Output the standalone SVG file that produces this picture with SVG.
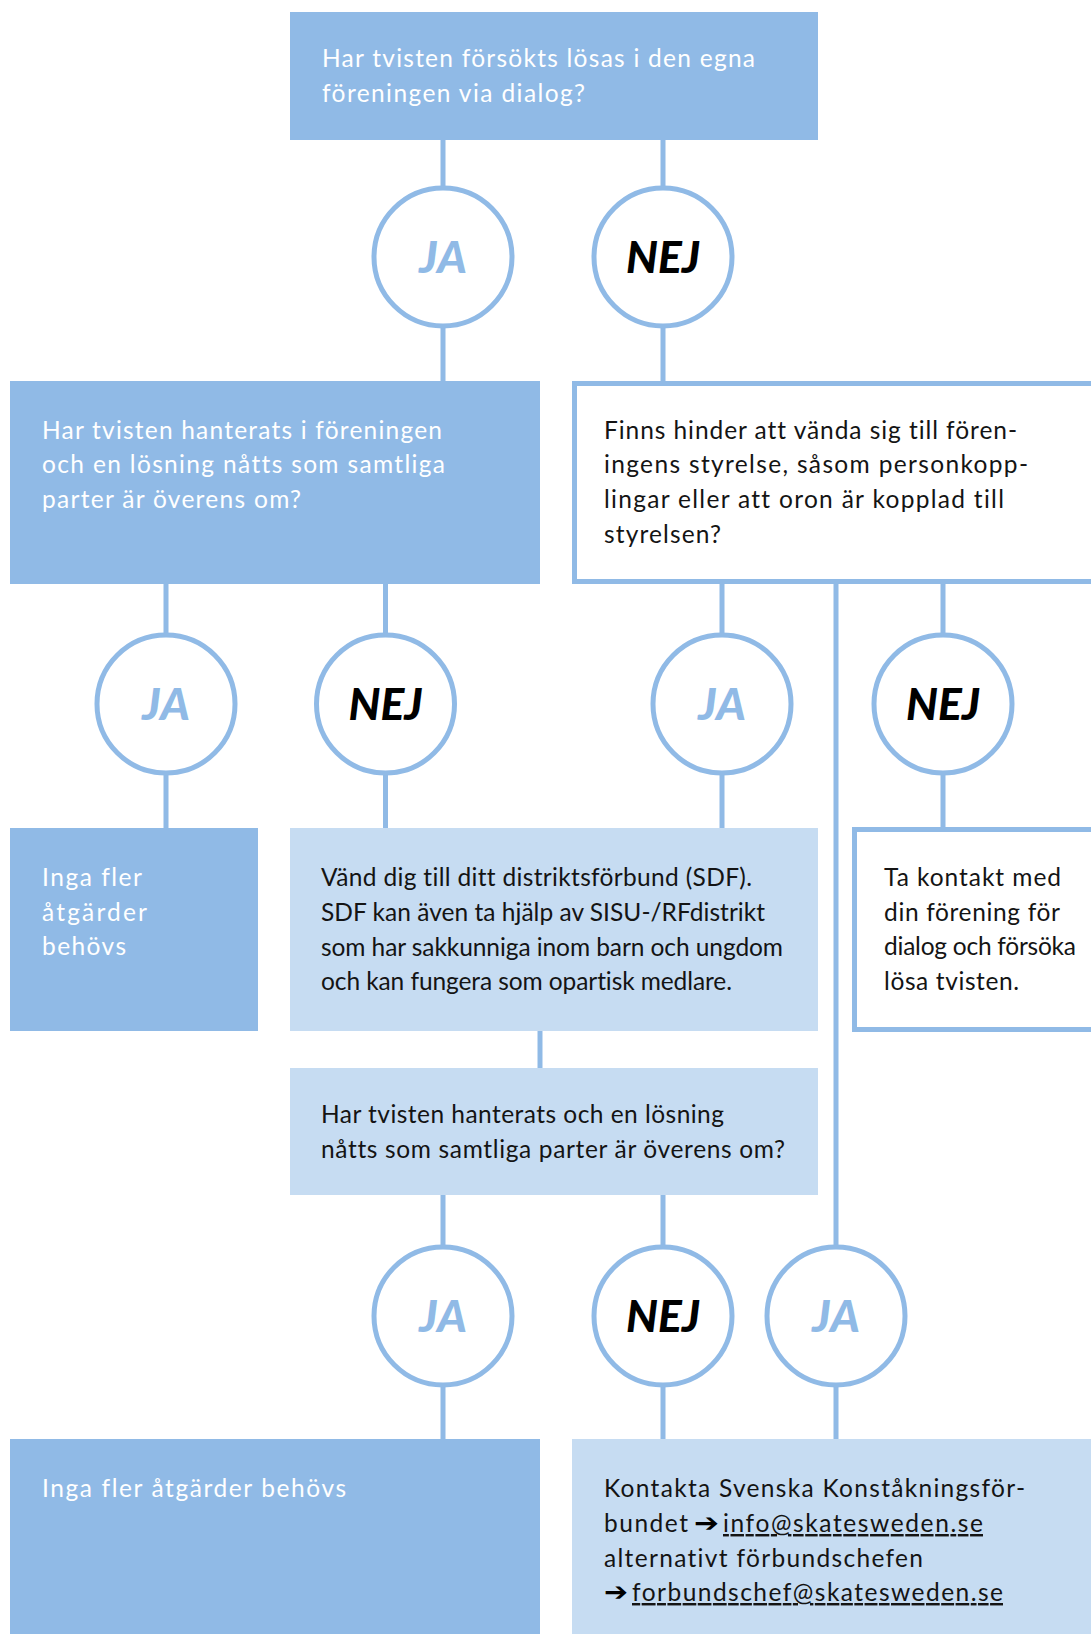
<svg xmlns="http://www.w3.org/2000/svg" width="1091" height="1634" viewBox="0 0 1091 1634">
<style>
.dk{fill:#90bae6}
.lt{fill:#c6dcf2}
.wb{fill:#fff;stroke:#90bae6;stroke-width:5}
.c{fill:#fff;stroke:#90bae6;stroke-width:5}
.ln{stroke:#90bae6;stroke-width:5;fill:none}
.t{font-family:Lato,"Noto Sans","DejaVu Sans",sans-serif;font-size:24.5px;font-variant-ligatures:none}
.w{fill:#ffffff}
.k{fill:#141414}
.ja{font-family:Lato,"Liberation Sans",sans-serif;font-weight:900;font-style:italic;font-size:43px;fill:#90bae6;text-anchor:middle}
.nej{font-family:Lato,"Liberation Sans",sans-serif;font-weight:900;font-style:italic;font-size:43px;fill:#000;text-anchor:middle}
.ar{font-family:"DejaVu Sans",sans-serif;font-weight:bold;font-size:26px;fill:#000}
.u{text-decoration:underline}
</style>
<rect width="1091" height="1634" fill="#fff"/>
<g id="connectors">
<line class="ln" x1="443" y1="140" x2="443" y2="381"/>
<line class="ln" x1="663" y1="140" x2="663" y2="381"/>
<line class="ln" x1="166" y1="584" x2="166" y2="828"/>
<line class="ln" x1="385.5" y1="584" x2="385.5" y2="828"/>
<line class="ln" x1="722" y1="584" x2="722" y2="828"/>
<line class="ln" x1="943" y1="584" x2="943" y2="828"/>
<line class="ln" x1="836" y1="584" x2="836" y2="1439"/>
<line class="ln" x1="540" y1="1031" x2="540" y2="1068"/>
<line class="ln" x1="443" y1="1195" x2="443" y2="1439"/>
<line class="ln" x1="663" y1="1195" x2="663" y2="1439"/>
</g>
<g id="q1">
<rect class="dk" x="290" y="12" width="528" height="128"/>
<text class="t w" x="322" y="67" textLength="433" lengthAdjust="spacing">Har tvisten försökts lösas i den egna</text>
<text class="t w" x="322" y="102" textLength="263" lengthAdjust="spacing">föreningen via dialog?</text>
</g>
<g id="c1-ja"><circle class="c" cx="443" cy="257" r="69"/><text class="ja" x="443" y="272.5" textLength="48" lengthAdjust="spacingAndGlyphs">JA</text></g>
<g id="c1-nej"><circle class="c" cx="663" cy="257" r="69"/><text class="nej" x="663" y="272.5" textLength="74" lengthAdjust="spacingAndGlyphs">NEJ</text></g>
<g id="q2">
<rect class="dk" x="10" y="381" width="530" height="203"/>
<text class="t w" x="42" y="439" textLength="400" lengthAdjust="spacing">Har tvisten hanterats i föreningen</text>
<text class="t w" x="42" y="473" textLength="403" lengthAdjust="spacing">och en lösning nåtts som samtliga</text>
<text class="t w" x="42" y="508" textLength="259" lengthAdjust="spacing">parter är överens om?</text>
</g>
<g id="q3">
<rect class="wb" x="574.5" y="383.5" width="530" height="198"/>
<text class="t k" x="604" y="439" textLength="413" lengthAdjust="spacing">Finns hinder att vända sig till fören-</text>
<text class="t k" x="604" y="473" textLength="424" lengthAdjust="spacing">ingens styrelse, såsom personkopp-</text>
<text class="t k" x="604" y="508" textLength="400" lengthAdjust="spacing">lingar eller att oron är kopplad till</text>
<text class="t k" x="604" y="543" textLength="117" lengthAdjust="spacing">styrelsen?</text>
</g>
<g id="c2-ja"><circle class="c" cx="166" cy="704" r="69"/><text class="ja" x="166" y="719.5" textLength="48" lengthAdjust="spacingAndGlyphs">JA</text></g>
<g id="c2-nej"><circle class="c" cx="385.5" cy="704" r="69"/><text class="nej" x="385.5" y="719.5" textLength="74" lengthAdjust="spacingAndGlyphs">NEJ</text></g>
<g id="c3-ja"><circle class="c" cx="722" cy="704" r="69"/><text class="ja" x="722" y="719.5" textLength="48" lengthAdjust="spacingAndGlyphs">JA</text></g>
<g id="c3-nej"><circle class="c" cx="943" cy="704" r="69"/><text class="nej" x="943" y="719.5" textLength="74" lengthAdjust="spacingAndGlyphs">NEJ</text></g>
<g id="end1">
<rect class="dk" x="10" y="828" width="248" height="203"/>
<text class="t w" x="42" y="886" textLength="100" lengthAdjust="spacing">Inga fler</text>
<text class="t w" x="42" y="921" textLength="105" lengthAdjust="spacing">åtgärder</text>
<text class="t w" x="42" y="955" textLength="84" lengthAdjust="spacing">behövs</text>
</g>
<g id="sdf">
<rect class="lt" x="290" y="828" width="528" height="203"/>
<text class="t k" x="321" y="886" textLength="431" lengthAdjust="spacing">Vänd dig till ditt distriktsförbund (SDF).</text>
<text class="t k" x="321" y="921" textLength="444" lengthAdjust="spacing">SDF kan även ta hjälp av SISU-/RFdistrikt</text>
<text class="t k" x="321" y="956" textLength="462" lengthAdjust="spacing">som har sakkunniga inom barn och ungdom</text>
<text class="t k" x="321" y="990" textLength="411" lengthAdjust="spacing">och kan fungera som opartisk medlare.</text>
</g>
<g id="contact-club">
<rect class="wb" x="854.5" y="829.5" width="300" height="200"/>
<text class="t k" x="884" y="886" textLength="177" lengthAdjust="spacing">Ta kontakt med</text>
<text class="t k" x="884" y="921" textLength="176" lengthAdjust="spacing">din förening för</text>
<text class="t k" x="884" y="955" textLength="192" lengthAdjust="spacing">dialog och försöka</text>
<text class="t k" x="884" y="990" textLength="135" lengthAdjust="spacing">lösa tvisten.</text>
</g>
<g id="q4">
<rect class="lt" x="290" y="1068" width="528" height="127"/>
<text class="t k" x="321" y="1123" textLength="403" lengthAdjust="spacing">Har tvisten hanterats och en lösning</text>
<text class="t k" x="321" y="1158" textLength="464" lengthAdjust="spacing">nåtts som samtliga parter är överens om?</text>
</g>
<g id="c4-ja"><circle class="c" cx="443" cy="1316" r="69"/><text class="ja" x="443" y="1331.5" textLength="48" lengthAdjust="spacingAndGlyphs">JA</text></g>
<g id="c4-nej"><circle class="c" cx="663" cy="1316" r="69"/><text class="nej" x="663" y="1331.5" textLength="74" lengthAdjust="spacingAndGlyphs">NEJ</text></g>
<g id="c5-ja"><circle class="c" cx="836" cy="1316" r="69"/><text class="ja" x="836" y="1331.5" textLength="48" lengthAdjust="spacingAndGlyphs">JA</text></g>
<g id="end2">
<rect class="dk" x="10" y="1439" width="530" height="200"/>
<text class="t w" x="42" y="1497" textLength="304" lengthAdjust="spacing">Inga fler åtgärder behövs</text>
</g>
<g id="contact-sk">
<rect class="lt" x="572" y="1439" width="530" height="200"/>
<text class="t k" x="604" y="1497" textLength="421" lengthAdjust="spacing">Kontakta Svenska Konståkningsför-</text>
<text class="t k" x="604" y="1532" textLength="84" lengthAdjust="spacing">bundet</text>
<text class="ar" x="694" y="1532" textLength="25" lengthAdjust="spacingAndGlyphs">➔</text>
<text class="t k u" x="723" y="1532" textLength="260" lengthAdjust="spacing">info@skatesweden.se</text>
<text class="t k" x="604" y="1567" textLength="319" lengthAdjust="spacing">alternativt förbundschefen</text>
<text class="ar" x="604" y="1601" textLength="24" lengthAdjust="spacingAndGlyphs">➔</text>
<text class="t k u" x="632" y="1601" textLength="371" lengthAdjust="spacing">forbundschef@skatesweden.se</text>
</g>
</svg>
